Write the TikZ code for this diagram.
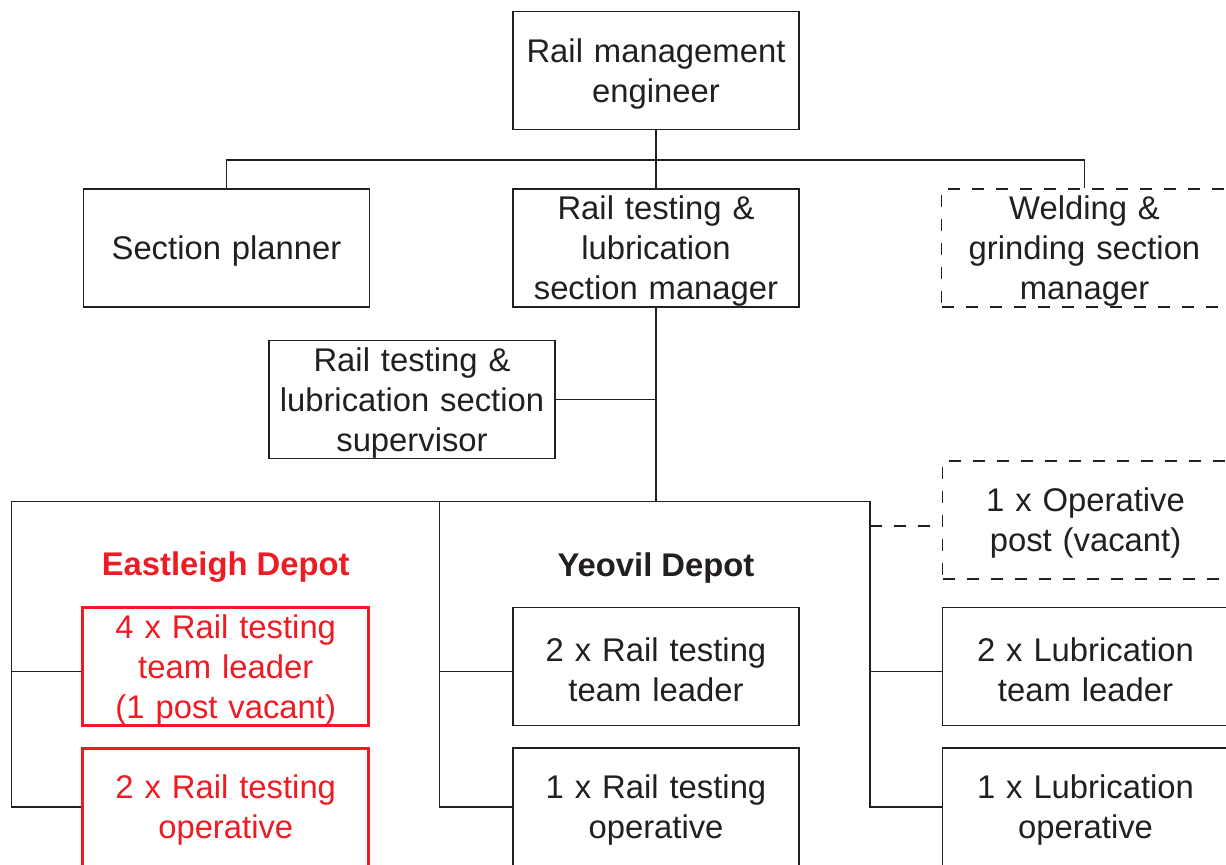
\documentclass[tikz,border=0pt]{standalone}
\usepackage{fontspec}
\setmainfont{Liberation Sans}
\usetikzlibrary{positioning}
\definecolor{ink}{HTML}{231F20}
\definecolor{depotred}{HTML}{ED1C24}
\tikzstyle{rolebox} = [
  rectangle,
  minimum width=143pt,
  minimum height=59pt,
  text width=143pt,
  align=center,
  inner sep=0,
  draw=ink,
  line width=0.75pt,
  text=ink,
  execute at begin node={\leavevmode\vrule width 0pt height 15.3pt\relax},
  font=\fontsize{16.4pt}{20pt}\selectfont
]
\tikzstyle{vacantbox} = [
  rolebox,
  dash pattern=on 6pt off 6pt
]
\tikzstyle{redbox} = [
  rolebox,
  draw=depotred,
  text=depotred,
  line width=1.5pt
]
\tikzstyle{depot} = [
  anchor=base,
  inner sep=0,
  text=ink,
  font=\fontsize{16.4pt}{20pt}\selectfont\bfseries
]
\tikzstyle{link} = [
  draw=ink,
  line width=0.75pt
]
\begin{document}
\begin{tikzpicture}
      \path[use as bounding box, clip] (0,0) rectangle (613pt,-432.5pt);

      \node [rolebox] (engineer) at (328pt,-35.25pt) {Rail management\\engineer};
      \node [rolebox, below=29pt of engineer] (manager) {Rail testing \&\\lubrication\\section manager};
      \node [rolebox, left=71pt of manager] (planner) {Section planner};
      \node [vacantbox, right=70.5pt of manager] (welding) {Welding \&\\grinding section\\manager};
      \node [rolebox, below=16pt of manager, xshift=-122pt] (supervisor) {Rail testing \&\\lubrication section\\supervisor};

      \node [rolebox, below=149.5pt of manager] (yeovilA) {2 x Rail testing\\team leader};
      \node [rolebox, below=10.5pt of yeovilA] (yeovilB) {1 x Rail testing\\operative};
      \node [redbox, left=71pt of yeovilA] (eastA) {4 x Rail testing\\team leader\\(1 post vacant)};
      \node [redbox, left=71pt of yeovilB] (eastB) {2 x Rail testing\\operative};
      \node [rolebox, right=71pt of yeovilA] (lubA) {2 x Lubrication\\team leader};
      \node [rolebox, right=71pt of yeovilB] (lubB) {1 x Lubrication\\operative};
      \node [vacantbox, above=13.5pt of lubA] (opvacant) {1 x Operative\\post (vacant)};

      \node [depot, text=depotred] (eastlbl) at ([yshift=15pt]eastA.north) {Eastleigh Depot};
      \node [depot] (yeovillbl) at ([yshift=15pt]yeovilA.north) {Yeovil Depot};

      \coordinate (lowbus) at ([yshift=-97pt]manager.south);
      \coordinate (eastx) at ([xshift=-35pt]eastA.west);
      \coordinate (yeovilx) at ([xshift=-36.5pt]yeovilA.west);
      \coordinate (lubx) at ([xshift=-36pt]lubA.west);
      \coordinate (opbranch) at ([yshift=-3pt]opvacant.west);

      \draw [link] (engineer) -- (manager);
      \draw [link] (planner.north) |- ([yshift=-15pt]engineer.south) -| (welding.north);
      \draw [link] (supervisor) -- (supervisor -| manager);
      \draw [link] (manager) -- (manager.south |- lowbus);
      \draw [link] (eastB.west) -| (eastx |- lowbus) -- (lubx |- lowbus) |- (lubB.west);
      \draw [link] (yeovilB.west) -| (yeovilx |- lowbus);
      \draw [link] ([yshift=-2.5pt]eastA.west) -| (eastx);
      \draw [link] ([yshift=-2.5pt]yeovilA.west) -| (yeovilx);
      \draw [link] ([yshift=-2.5pt]lubA.west) -| (lubx);
      \draw [link, dash pattern=on 6pt off 6pt] (opbranch -| lubx) -- (opbranch);

    \end{tikzpicture}
\end{document}
